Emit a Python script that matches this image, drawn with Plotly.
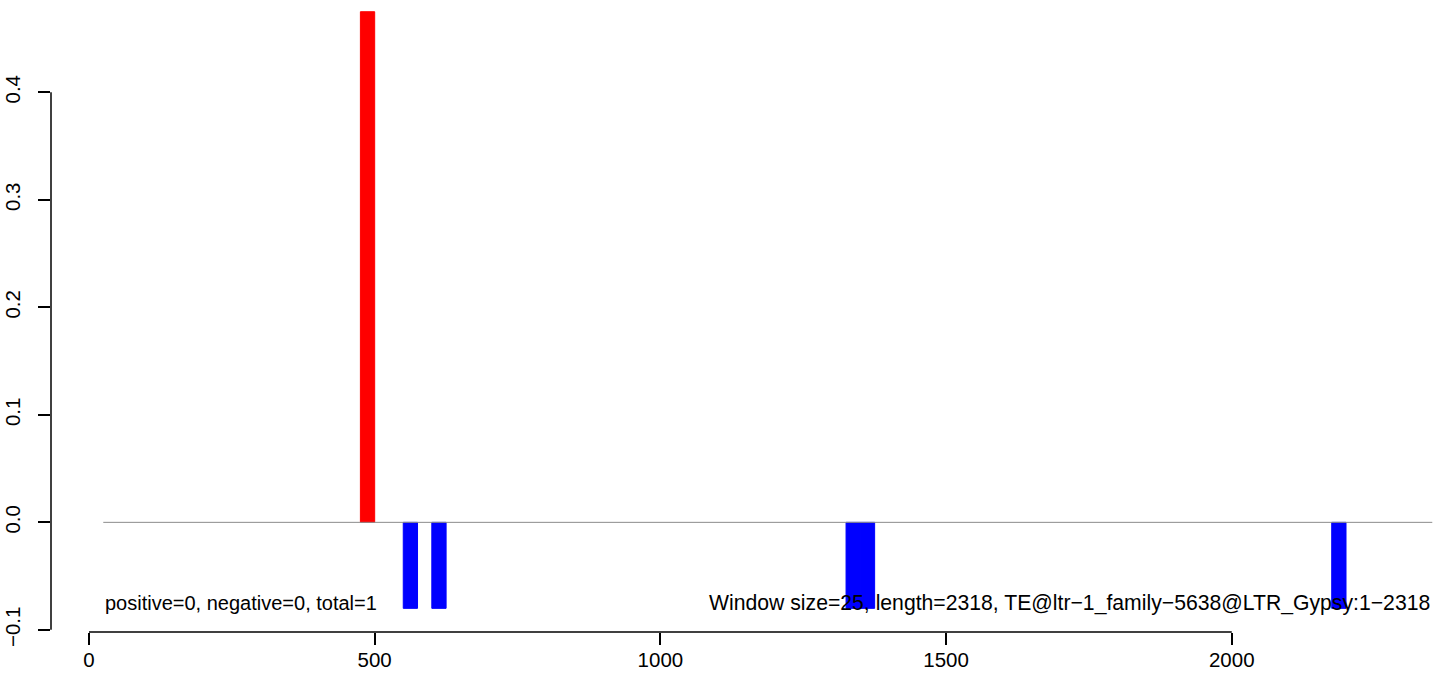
import plotly.graph_objects as go

# Window starts (bp), window size 25
pos_starts = [475]
pos_values = [0.475]
neg_starts = [550, 600, 1325, 1350, 2175]
neg_values = [-0.08, -0.08, -0.08, -0.08, -0.08]
window_size = 25

baseline_x = [25, 2351]
baseline_y = [0, 0]

x_ticks = [0, 500, 1000, 1500, 2000]
x_tick_labels = ["0", "500", "1000", "1500", "2000"]
y_ticks = [-0.1, 0.0, 0.1, 0.2, 0.3, 0.4]
y_tick_labels = ["\u22120.1", "0.0", "0.1", "0.2", "0.3", "0.4"]

left_text = "positive=0, negative=0, total=1"
right_text = "Window size=25, length=2318, TE@ltr\u22121_family\u22125638@LTR_Gypsy:1\u22122318"
text_y = -0.075

FONT = "Liberation Sans, Arial, Helvetica, sans-serif"

fig = go.Figure()
fig.add_trace(go.Scatter(x=baseline_x, y=baseline_y, mode="lines",
                         line=dict(color="#8c8c8c", width=1), hoverinfo="skip"))
fig.add_trace(go.Bar(x=pos_starts, y=pos_values, width=window_size, offset=0,
                     marker=dict(color="#ff0000", line=dict(width=1, color="#ff0000"))))
fig.add_trace(go.Bar(x=neg_starts, y=neg_values, width=window_size, offset=0,
                     marker=dict(color="#0000ff", line=dict(width=1, color="#0000ff"))))

fig.add_annotation(x=baseline_x[0], y=text_y, text=left_text, showarrow=False,
                   xanchor="left", yanchor="middle", font=dict(size=20, color="black"))
fig.add_annotation(x=baseline_x[1], y=text_y, text=right_text, showarrow=False,
                   xanchor="right", yanchor="middle", font=dict(size=21.2, color="black"))

# R-style axis lines spanning only the tick range
fig.add_shape(type="line", xref="paper", yref="y", x0=0, x1=0,
              y0=y_ticks[0], y1=y_ticks[-1], line=dict(color="black", width=1.5))
fig.add_shape(type="line", xref="x", yref="paper", x0=x_ticks[0], x1=x_ticks[-1],
              y0=0, y1=0, line=dict(color="black", width=1.5))

fig.update_layout(
    width=1450, height=683,
    margin=dict(l=51, r=0, t=0, b=51, autoexpand=False),
    plot_bgcolor="white", paper_bgcolor="white",
    showlegend=False, barmode="overlay",
    font=dict(family=FONT, size=20.5, color="black"),
    xaxis=dict(range=[-66.5, 2382], tickvals=x_ticks, ticktext=x_tick_labels,
               ticks="outside", ticklen=12, tickwidth=1.5, tickcolor="black", automargin=False,
               showgrid=False, zeroline=False, showline=False, ticklabelstandoff=-3),
    yaxis=dict(range=[-0.102, 0.4859], tickvals=y_ticks, ticktext=y_tick_labels,
               tickangle=-90, ticks="outside", ticklen=12, tickwidth=1.5, tickcolor="black",
               automargin=False,
               showgrid=False, zeroline=False, showline=False, ticklabelstandoff=10),
)

fig.write_html("out.html", config={"displayModeBar": False},
               post_script="document.body.style.margin='0';document.body.style.overflow='hidden';")
